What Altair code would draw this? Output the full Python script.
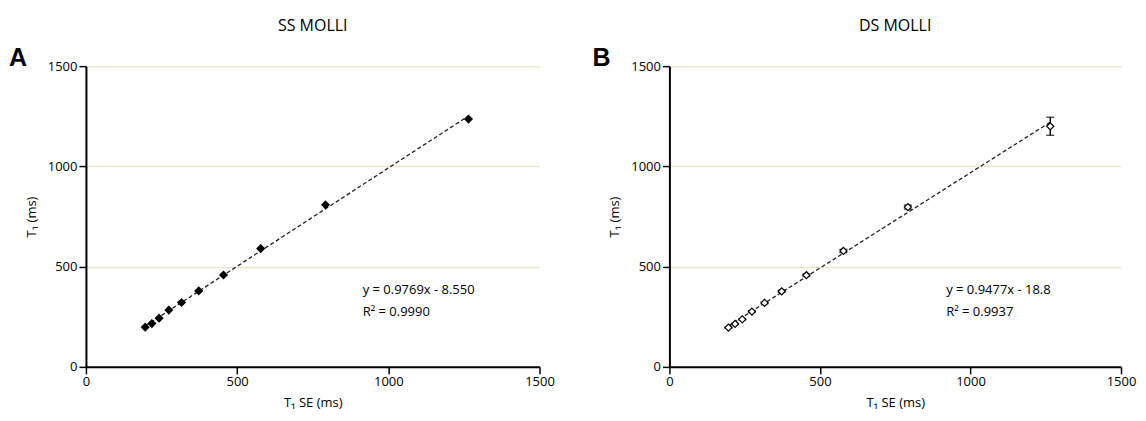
import altair as alt
import pandas as pd

# ---- data ----
t1_se = [196, 218, 242, 274, 316, 373, 455, 578, 792, 1265]
ss_t1 = [198, 216, 243, 283, 321, 379, 458, 590, 808, 1236]
ds_t1 = [196, 214, 237, 276, 319, 377, 457, 578, 797, 1200]
ds_sd = [3, 3, 3, 4, 4, 5, 6, 8, 10, 45]

panel_titles = ["SS MOLLI", "DS MOLLI"]
panel_letters = ["A", "B"]
eq_texts = ["y = 0.9769x - 8.550", "y = 0.9477x - 18.8"]
r2_texts = ["R² = 0.9990", "R² = 0.9937"]
axis_ticks = [0, 500, 1000, 1500]

FONT = "Open Sans"


def panel(i, yvals, width, filled, err=None):
    df = pd.DataFrame({"x": t1_se, "y": yvals})
    xs = alt.Scale(domain=[0, 1500], nice=False, zero=True)
    ys = alt.Scale(domain=[0, 1500], nice=False, zero=True)
    X = alt.X("x:Q", scale=xs, axis=alt.Axis(values=axis_ticks, format="d", title="T₁ SE (ms)", grid=False))
    Y = alt.Y("y:Q", scale=ys, axis=alt.Axis(values=axis_ticks, format="d", title="T₁ (ms)", grid=True))

    line = alt.Chart(df).transform_regression("x", "y").mark_line(
        color="#222222", strokeDash=[4, 2.5], strokeWidth=1.3).encode(x=X, y=Y)

    layers = [line]
    if err is not None:
        edf = pd.DataFrame({"x": t1_se, "lo": [v - e for v, e in zip(yvals, err)],
                            "hi": [v + e for v, e in zip(yvals, err)]})
        rule = alt.Chart(edf).mark_rule(color="black", strokeWidth=1.4).encode(
            x=alt.X("x:Q", scale=xs), y=alt.Y("lo:Q", scale=ys), y2="hi:Q")
        cap_lo = alt.Chart(edf).mark_tick(color="black", orient="horizontal", size=8, thickness=1.4).encode(
            x=alt.X("x:Q", scale=xs), y=alt.Y("lo:Q", scale=ys))
        cap_hi = alt.Chart(edf).mark_tick(color="black", orient="horizontal", size=8, thickness=1.4).encode(
            x=alt.X("x:Q", scale=xs), y=alt.Y("hi:Q", scale=ys))
        layers += [rule, cap_lo, cap_hi]

    if filled:
        pts = alt.Chart(df).mark_point(shape="diamond", filled=True, fill="black", stroke="black",
                                       size=40, opacity=1)
    else:
        pts = alt.Chart(df).mark_point(shape="diamond", fill="white", stroke="black", strokeWidth=1.2,
                                       size=50, opacity=1, fillOpacity=1)
    layers.append(pts.encode(x=X, y=Y))

    def txt(s, **kw):
        return alt.Chart(pd.DataFrame({"t": [s]})).mark_text(**kw).encode(text="t:N")

    layers.append(txt(panel_titles[i], font=FONT, fontSize=16, align="center", baseline="middle",
                      color="black").encode(x=alt.value(width / 2), y=alt.value(-40)))
    layers.append(txt(panel_letters[i], font="Liberation Sans", fontSize=25, fontWeight="bold",
                      align="center", baseline="middle", color="black")
                  .encode(x=alt.value(-68), y=alt.value(-8)))
    layers.append(txt(eq_texts[i], font=FONT, fontSize=13, align="left", baseline="middle",
                      color="black").encode(x=alt.value(277), y=alt.value(224)))
    layers.append(txt(r2_texts[i], font=FONT, fontSize=13, align="left", baseline="middle",
                      color="black").encode(x=alt.value(277), y=alt.value(246)))

    return alt.layer(*layers).properties(width=width, height=301)


a = panel(0, ss_t1, 454, True)
b = panel(1, ds_t1, 452, False, ds_sd)

chart = alt.hconcat(a, b, spacing=37).properties(
    padding={"left": 0, "top": 10, "right": 2, "bottom": 5}
).configure_view(stroke=None).configure_axis(
    domainColor="black", domainWidth=2, tickColor="black", tickWidth=1.5, tickSize=7,
    labelFont=FONT, labelFontSize=13, labelColor="black", labelPadding=2, labelFlush=False,
    titleFont=FONT, titleFontSize=13, titleFontWeight="normal", titleColor="black",
    gridColor="#EEE6CC", gridWidth=1.5,
).configure_axisX(titlePadding=8).configure_axisY(titlePadding=9)

chart.save("out.html", embed_options={"renderer": "svg", "actions": False})
